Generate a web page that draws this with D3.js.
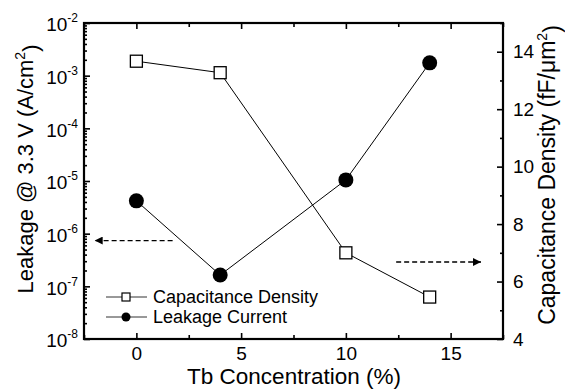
<!DOCTYPE html>
<html>
<head>
<meta charset="utf-8">
<script src="https://cdn.jsdelivr.net/npm/d3@7"></script>
<style>
  html, body { margin: 0; padding: 0; background: #fff; }
  svg { display: block; font-family: "Liberation Sans", Arial, Helvetica, sans-serif; }
</style>
</head>
<body>
<svg id="chart" width="565" height="390"></svg>
<script>
// ---- data ----
const concentration = [0, 4, 10, 14];                       // Tb concentration (%)
const capacitance   = [13.67, 13.27, 7.0, 5.46];              // fF/um^2 (right axis)
const leakage       = [4.2e-6, 1.64e-7, 1.05e-5, 1.75e-3];    // A/cm^2 (left axis)
const xTicks        = [0, 5, 10, 15];
const xMinorTicks   = [-2.5, 2.5, 7.5, 12.5, 17.5];
const leftExponents = [-8, -7, -6, -5, -4, -3, -2];
const rightTicks    = [4, 6, 8, 10, 12, 14];
const rightMinor    = [5, 7, 9, 11, 13, 15];
const seriesNames   = ["Capacitance Density", "Leakage Current"];
// arrow annotations (data coords)
const leftArrow  = { x1: 1.73, x2: -1.99, y: 7.4e-7 };
const rightArrow = { x1: 12.4, x2: 16.45, y: 6.68 };

// ---- layout ----
const L = 84, R = 503, T = 23, B = 339;
const svg = d3.select("#chart");

const x = d3.scaleLinear().domain([-2.5, 17.5]).range([L, R]);
const yL = d3.scaleLog().domain([1e-8, 1e-2]).range([B, T]);
const yR = d3.scaleLinear().domain([4, 15]).range([B, T]);

const leftMinor = [];
for (let e = -8; e < -2; e++) for (let m = 2; m <= 9; m++) leftMinor.push(m * Math.pow(10, e));

function styleAxis(g) {
  g.selectAll("path.domain").remove();
  g.selectAll("line").attr("stroke", "#000").attr("stroke-width", 1.6);
  g.selectAll("text").attr("fill", "#000");
}

// bottom axis
svg.append("g").attr("transform", `translate(0,${B})`)
  .call(d3.axisBottom(x).tickValues(xTicks).tickSizeInner(-6).tickSizeOuter(0).tickPadding(8).tickFormat(d3.format("d")))
  .call(styleAxis)
  .call(g => g.selectAll("text").attr("font-size", 19).attr("font-family", "Liberation Sans, Arial, sans-serif"));
svg.append("g").attr("transform", `translate(0,${B})`)
  .call(d3.axisBottom(x).tickValues(xMinorTicks).tickSizeInner(-4).tickSizeOuter(0).tickFormat(""))
  .call(styleAxis);
// top axis (mirror)
svg.append("g").attr("transform", `translate(0,${T})`)
  .call(d3.axisTop(x).tickValues(xTicks).tickSizeInner(-6).tickSizeOuter(0).tickFormat(""))
  .call(styleAxis);
svg.append("g").attr("transform", `translate(0,${T})`)
  .call(d3.axisTop(x).tickValues(xMinorTicks).tickSizeInner(-4).tickSizeOuter(0).tickFormat(""))
  .call(styleAxis);

// left log axis
const leftMajor = leftExponents.map(e => Math.pow(10, e));
const gl = svg.append("g").attr("transform", `translate(${L},0)`)
  .call(d3.axisLeft(yL).tickValues(leftMajor).tickSizeInner(-6).tickSizeOuter(0).tickPadding(6).tickFormat(""))
  .call(styleAxis);
gl.selectAll(".tick text")
  .attr("font-size", 19).attr("dy", "0.42em")
  .each(function(d) {
    const t = d3.select(this);
    t.text("");
    t.append("tspan").text("10");
    t.append("tspan").attr("font-size", 12).attr("dy", "-0.75em").text(Math.round(Math.log10(d)));
  });
svg.append("g").attr("transform", `translate(${L},0)`)
  .call(d3.axisLeft(yL).tickValues(leftMinor).tickSizeInner(-3).tickSizeOuter(0).tickFormat(""))
  .call(styleAxis);

// right axis
svg.append("g").attr("transform", `translate(${R},0)`)
  .call(d3.axisRight(yR).tickValues(rightTicks).tickSizeInner(-6).tickSizeOuter(0).tickPadding(10).tickFormat(d3.format("d")))
  .call(styleAxis)
  .call(g => g.selectAll("text").attr("font-size", 19));
svg.append("g").attr("transform", `translate(${R},0)`)
  .call(d3.axisRight(yR).tickValues(rightMinor).tickSizeInner(-3).tickSizeOuter(0).tickFormat(""))
  .call(styleAxis);

// frame
svg.append("rect").attr("x", L).attr("y", T).attr("width", R - L).attr("height", B - T)
  .attr("fill", "none").attr("stroke", "#000").attr("stroke-width", 2.2);

// axis titles
svg.append("text").attr("x", 294).attr("y", 384).attr("text-anchor", "middle")
  .attr("font-size", 22.5).text("Tb Concentration (%)");

const lt = svg.append("text").attr("transform", `translate(33,169) rotate(-90)`)
  .attr("text-anchor", "middle").attr("font-size", 22);
lt.append("tspan").text("Leakage @ 3.3 V (A/cm");
lt.append("tspan").attr("font-size", 14).attr("dy", "-0.6em").text("2");
lt.append("tspan").attr("dy", "0.6em").text(")");

const rt = svg.append("text").attr("transform", `translate(555,175) rotate(-90)`)
  .attr("text-anchor", "middle").attr("font-size", 23);
rt.append("tspan").text("Capacitance Density (fF/μm");
rt.append("tspan").attr("font-size", 14).attr("dy", "-0.6em").text("2");
rt.append("tspan").attr("dy", "0.6em").text(")");

// series lines
const capPts = concentration.map((c, i) => [c, capacitance[i]]);
const leakPts = concentration.map((c, i) => [c, leakage[i]]);

svg.append("path").datum(capPts)
  .attr("d", d3.line().x(d => x(d[0])).y(d => yR(d[1])))
  .attr("fill", "none").attr("stroke", "#000").attr("stroke-width", 1);
svg.append("path").datum(leakPts)
  .attr("d", d3.line().x(d => x(d[0])).y(d => yL(d[1])))
  .attr("fill", "none").attr("stroke", "#000").attr("stroke-width", 1);

// markers
const sq = 12;
svg.selectAll("rect.cap").data(capPts).join("rect").attr("class", "cap")
  .attr("x", d => x(d[0]) - sq / 2).attr("y", d => yR(d[1]) - sq / 2)
  .attr("width", sq).attr("height", sq)
  .attr("fill", "#fff").attr("stroke", "#000").attr("stroke-width", 1.3);
svg.selectAll("circle.leak").data(leakPts).join("circle").attr("class", "leak")
  .attr("cx", d => x(d[0])).attr("cy", d => yL(d[1])).attr("r", 7.5)
  .attr("fill", "#000");

// arrows
const defs = svg.append("defs");
defs.append("marker").attr("id", "ah").attr("viewBox", "0 0 10 10")
  .attr("refX", 10).attr("refY", 5).attr("markerWidth", 10).attr("markerHeight", 8)
  .attr("markerUnits", "userSpaceOnUse").attr("orient", "auto")
  .append("path").attr("d", "M0,0 L10,5 L0,10 Z").attr("fill", "#000");

svg.append("line")
  .attr("x1", x(leftArrow.x1)).attr("x2", x(leftArrow.x2))
  .attr("y1", yL(leftArrow.y)).attr("y2", yL(leftArrow.y))
  .attr("stroke", "#000").attr("stroke-width", 1.3).attr("stroke-dasharray", "5,3")
  .attr("marker-end", "url(#ah)");
svg.append("line")
  .attr("x1", x(rightArrow.x1)).attr("x2", x(rightArrow.x2))
  .attr("y1", yR(rightArrow.y)).attr("y2", yR(rightArrow.y))
  .attr("stroke", "#000").attr("stroke-width", 1.3).attr("stroke-dasharray", "5,3")
  .attr("marker-end", "url(#ah)");

// legend
const lg = svg.append("g");
const legY = [297, 317];
seriesNames.forEach((name, i) => {
  const y = legY[i];
  lg.append("line").attr("x1", 106).attr("x2", 147).attr("y1", y).attr("y2", y)
    .attr("stroke", "#333").attr("stroke-width", 1);
  if (i === 0) {
    lg.append("rect").attr("x", 126 - 4).attr("y", y - 4).attr("width", 8).attr("height", 8)
      .attr("fill", "#fff").attr("stroke", "#000").attr("stroke-width", 1.2);
  } else {
    lg.append("circle").attr("cx", 126).attr("cy", y).attr("r", 4.5).attr("fill", "#000");
  }
  lg.append("text").attr("x", 153).attr("y", y).attr("dy", "0.36em")
    .attr("font-size", 18).text(name);
});
</script>
</body>
</html>
